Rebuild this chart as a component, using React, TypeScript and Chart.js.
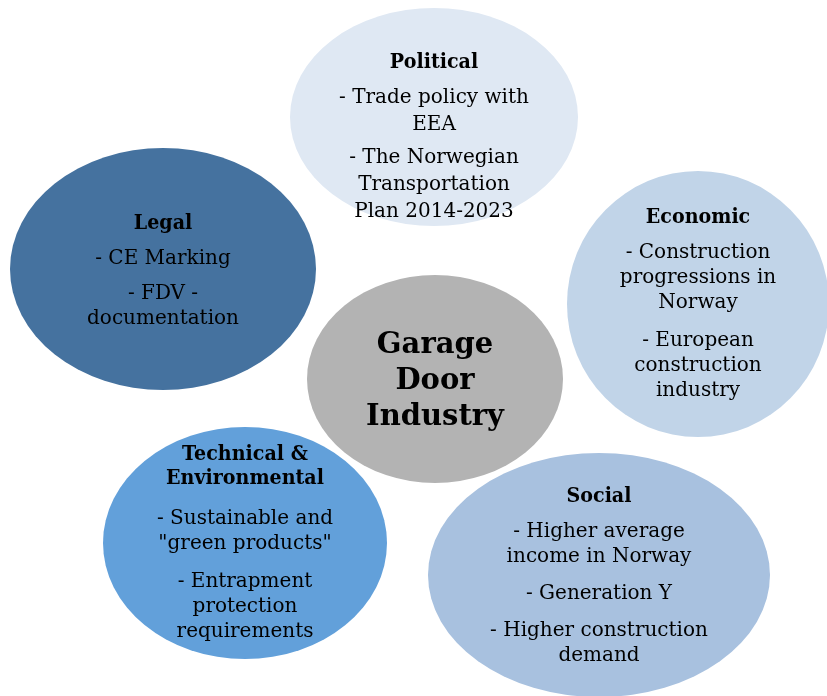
import React, { useEffect, useRef } from "react";
import { Chart, registerables } from "chart.js";

Chart.register(...registerables);

// ---- data ----
const nodeNames = ["Political", "Legal", "Economic", "Garage Door Industry", "Technical & Environmental", "Social"];
const centerX = [434, 163, 698, 435, 245, 599];
const centerY = [117, 269, 304, 379, 543, 575];
const radiusX = [144, 153, 131, 128, 142, 171];
const radiusY = [109, 121, 133, 104, 116, 122];

const titleLines: string[][] = [
  ["Political"],
  ["Legal"],
  ["Economic"],
  ["Garage", "Door", "Industry"],
  ["Technical &", "Environmental"],
  ["Social"],
];
const bodyParagraphs: string[][][] = [
  [["- Trade policy with", "EEA"], ["- The Norwegian", "Transportation", "Plan 2014-2023"]],
  [["- CE Marking"], ["- FDV -", "documentation"]],
  [["- Construction", "progressions in", "Norway"], ["- European", "construction", "industry"]],
  [],
  [["- Sustainable and", "\"green products\""], ["- Entrapment", "protection", "requirements"]],
  [["- Higher average", "income in Norway"], ["- Generation Y"], ["- Higher construction", "demand"]],
];

// ---- styles ----
const fillColors = ["#dfe8f3", "#45729f", "#c1d4e8", "#b3b3b3", "#62a0da", "#a8c1df"];
const textOffsetY = [20, 2, 0, 2, 0, 1];
const titleGap = [35, 35, 35, 0, 40, 35];
const paraGap = [33, 35, 38, 0, 38, 37];
const lineGap = [27, 25, 25, 36, 25, 25];
const FONT = "'DejaVu Serif', serif";

const W = 827;
const H = 696;

const diagramPlugin = {
  id: "diagram",
  beforeDatasetsDraw(chart: any) {
    const ctx: CanvasRenderingContext2D = chart.ctx;
    const xs = chart.scales.x;
    const ys = chart.scales.y;
    const meta = chart.getDatasetMeta(0);
    ctx.save();
    for (let i = 0; i < nodeNames.length; i++) {
      const pt = meta.data[i];
      const px = pt.x;
      const py = pt.y;
      const rx = Math.abs(xs.getPixelForValue(centerX[i] + radiusX[i]) - px);
      const ry = Math.abs(ys.getPixelForValue(centerY[i] + radiusY[i]) - py);
      ctx.beginPath();
      ctx.ellipse(px, py, rx, ry, 0, 0, Math.PI * 2);
      ctx.fillStyle = fillColors[i];
      ctx.fill();
    }
    // text
    ctx.fillStyle = "#000";
    ctx.textAlign = "center";
    ctx.textBaseline = "middle";
    for (let i = 0; i < nodeNames.length; i++) {
      const pt = meta.data[i];
      const px = pt.x;
      const py = pt.y;
      const isCenter = bodyParagraphs[i].length === 0;
      const items: { text: string; y: number; bold: boolean }[] = [];
      let y = 0;
      const titleLH = isCenter ? lineGap[i] : 24;
      titleLines[i].forEach((t, k) => {
        if (k > 0) y += titleLH;
        items.push({ text: t, y, bold: true });
      });
      bodyParagraphs[i].forEach((para, p) => {
        y += p === 0 ? titleGap[i] : paraGap[i];
        para.forEach((t, k) => {
          if (k > 0) y += lineGap[i];
          items.push({ text: t, y, bold: false });
        });
      });
      const start = py + textOffsetY[i] - y / 2;
      items.forEach((it) => {
        let size = 20;
        let sx = 1;
        if (isCenter) {
          size = 29;
        } else if (it.bold) {
          size = 20.5;
          sx = 0.93;
        }
        ctx.font = `${it.bold ? "bold " : ""}${size}px ${FONT}`;
        ctx.save();
        ctx.translate(px, start + it.y);
        ctx.scale(sx, 1);
        ctx.fillText(it.text, 0, 0);
        ctx.restore();
      });
    }
    ctx.restore();
  },
};

export default function App() {
  const ref = useRef<HTMLCanvasElement | null>(null);
  useEffect(() => {
    document.body.style.margin = "0";
    if (!ref.current) return;
    const chart = new Chart(ref.current, {
      type: "scatter",
      data: {
        datasets: [
          {
            label: "nodes",
            data: centerX.map((x, i) => ({ x, y: centerY[i] })),
            pointRadius: 0,
            pointHoverRadius: 0,
          },
        ],
      },
      options: {
        animation: false,
        responsive: false,
        maintainAspectRatio: false,
        events: [],
        layout: { padding: 0 },
        scales: {
          x: { type: "linear", min: 0, max: W, display: false },
          y: { type: "linear", min: 0, max: H, reverse: true, display: false },
        },
        plugins: { legend: { display: false }, tooltip: { enabled: false } },
      },
      plugins: [diagramPlugin],
    });
    return () => chart.destroy();
  }, []);
  return (
    <div style={{ position: "absolute", left: 0, top: 0, width: W, height: H, background: "#fff" }}>
      <canvas ref={ref} width={W} height={H} style={{ width: W, height: H, display: "block" }} />
    </div>
  );
}
